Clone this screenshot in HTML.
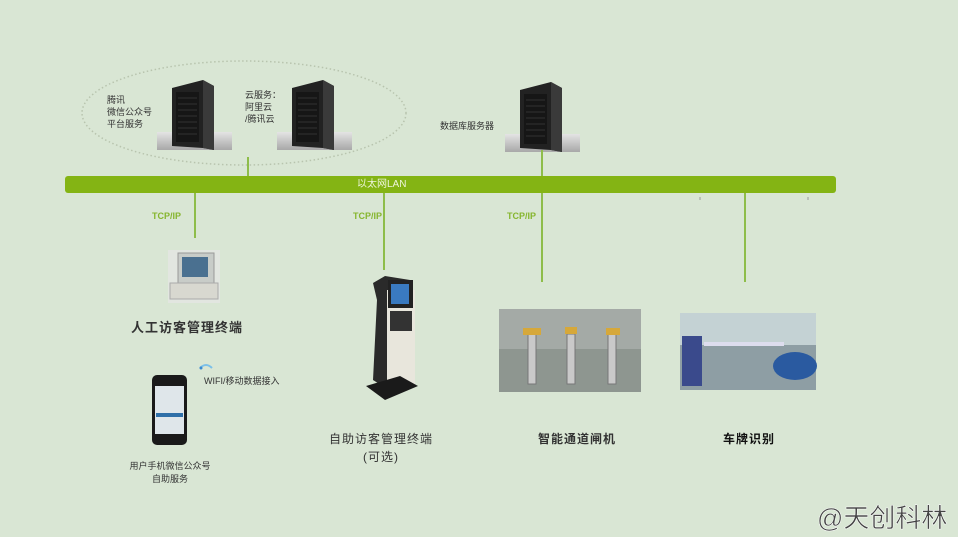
<!DOCTYPE html>
<html><head><meta charset="utf-8"><style>
body{margin:0;width:958px;height:537px;overflow:hidden;background:#d9e6d4;font-family:"Liberation Sans","Noto Sans CJK SC",sans-serif;position:relative}
.t{position:absolute;color:#333;font-size:9px;line-height:12px;white-space:nowrap}
.b{position:absolute;font-size:13px;font-weight:bold;color:#333;text-align:center;white-space:nowrap;letter-spacing:1px}
.g{position:absolute;color:#86b52e;font-size:9px;font-weight:bold}
</style></head><body>
<svg width="958" height="537" style="position:absolute;left:0;top:0">
<defs>
<linearGradient id="sh" x1="0" y1="0" x2="0" y2="1"><stop offset="0" stop-color="#e4e4e4"/><stop offset="1" stop-color="#a8a8a8"/></linearGradient>
<g id="srv">
<rect x="-15" y="52" width="75" height="18" fill="url(#sh)"/>
<polygon points="0,8 31,0 42,6 42,70 31,68 0,66" fill="#222"/>
<polygon points="31,0 42,6 42,70 31,68" fill="#3a3a3a"/>
<rect x="4" y="12" width="23" height="50" fill="#161616"/>
<g stroke="#333" stroke-width="1"><line x1="6" y1="18" x2="25" y2="18"/><line x1="6" y1="24" x2="25" y2="24"/><line x1="6" y1="30" x2="25" y2="30"/><line x1="6" y1="36" x2="25" y2="36"/><line x1="6" y1="42" x2="25" y2="42"/><line x1="6" y1="48" x2="25" y2="48"/><line x1="6" y1="54" x2="25" y2="54"/></g>
</g>
</defs>
<ellipse cx="244" cy="113" rx="162" ry="52" fill="none" stroke="#b8c4ae" stroke-width="1.5" stroke-dasharray="1.5 2.5"/>
<use href="#srv" x="172" y="80"/>
<use href="#srv" x="292" y="80"/>
<use href="#srv" x="520" y="82"/>
<g stroke="#8ebd4a" stroke-width="2">
<line x1="248" y1="157" x2="248" y2="178"/>
<line x1="542" y1="150" x2="542" y2="178"/>
<line x1="195" y1="192" x2="195" y2="238"/>
<line x1="384" y1="192" x2="384" y2="270"/>
<line x1="542" y1="192" x2="542" y2="282"/>
<line x1="745" y1="192" x2="745" y2="282"/>
</g>
<rect x="65" y="176" width="771" height="17" rx="3" fill="#84b414"/>
<line x1="700" y1="197" x2="700" y2="200" stroke="#999"/>
<line x1="808" y1="197" x2="808" y2="200" stroke="#999"/>
<rect x="168" y="250" width="52" height="53" fill="#e2e6e0"/>
<rect x="178" y="253" width="36" height="30" fill="#c8ccc8" stroke="#999"/>
<rect x="182" y="257" width="26" height="20" fill="#4a7090"/>
<rect x="170" y="283" width="48" height="16" fill="#d8d8d0" stroke="#aaa"/>
<polygon points="373,283 385,276 410,280 412,300 400,310 402,380 392,392 373,380 377,300" fill="#2a2a2a"/>
<rect x="387" y="290" width="28" height="96" fill="#e8e6dc"/>
<rect x="388" y="280" width="25" height="28" fill="#222"/>
<rect x="391" y="284" width="18" height="20" fill="#3a7ac0"/>
<rect x="390" y="311" width="22" height="20" fill="#333"/>
<polygon points="366,386 400,376 418,386 385,400" fill="#1a1a1a"/>
<rect x="152" y="375" width="35" height="70" rx="5" fill="#1a1a1a"/>
<rect x="155" y="386" width="29" height="48" fill="#dfe6ea"/>
<rect x="156" y="413" width="27" height="4" fill="#2f6fa8"/>
<path d="M200 368 q6 -6 12 0" fill="none" stroke="#7cc0e8" stroke-width="2"/>
<circle cx="201" cy="368" r="1.5" fill="#3a8ad0"/>
<rect x="499" y="309" width="142" height="83" fill="#8e9690"/>
<rect x="499" y="309" width="142" height="40" fill="#a4aaa6"/>
<g fill="#c9c9c9" stroke="#777"><rect x="528" y="334" width="8" height="50"/><rect x="567" y="334" width="8" height="50"/><rect x="608" y="334" width="8" height="50"/></g>
<g fill="#d6a83a"><rect x="523" y="328" width="18" height="7"/><rect x="565" y="327" width="12" height="7"/><rect x="606" y="328" width="14" height="7"/></g>
<rect x="680" y="313" width="136" height="77" fill="#c4d2d4"/>
<rect x="680" y="345" width="136" height="45" fill="#8e9ea4"/>
<rect x="682" y="336" width="20" height="50" fill="#3a4a8c"/>
<rect x="704" y="342" width="80" height="4" fill="#dde"/>
<ellipse cx="795" cy="366" rx="22" ry="14" fill="#2a5aa0"/>
</svg>
<div class="t" style="left:107px;top:94px">腾讯<br>微信公众号<br>平台服务</div>
<div class="t" style="left:245px;top:89px">云服务：<br>阿里云<br>/腾讯云</div>
<div class="t" style="left:440px;top:120px">数据库服务器</div>
<div class="t" style="left:357px;top:179px;color:#eef5dc;font-size:10px">以太网LAN</div>
<div class="g" style="left:152px;top:211px">TCP/IP</div>
<div class="g" style="left:353px;top:211px">TCP/IP</div>
<div class="g" style="left:507px;top:211px">TCP/IP</div>
<div class="b" style="left:117px;top:317px;width:140px">人工访客管理终端</div>
<div class="t" style="left:204px;top:375px">WIFI/移动数据接入</div>
<div class="t" style="left:110px;top:460px;width:120px;text-align:center;line-height:13px">用户手机微信公众号<br>自助服务</div>
<div class="b" style="left:311px;top:430px;width:140px;font-weight:normal;font-size:12px;line-height:18px">自助访客管理终端<br>(可选)</div>
<div class="b" style="left:517px;top:430px;width:120px;font-size:12px">智能通道闸机</div>
<div class="b" style="left:699px;top:430px;width:100px;font-size:12px;color:#111">车牌识别</div>
<div style="position:absolute;left:817px;top:498px;font-size:26px;color:#444;-webkit-text-stroke:0.5px #fff">@天创科林</div>
</body></html>
